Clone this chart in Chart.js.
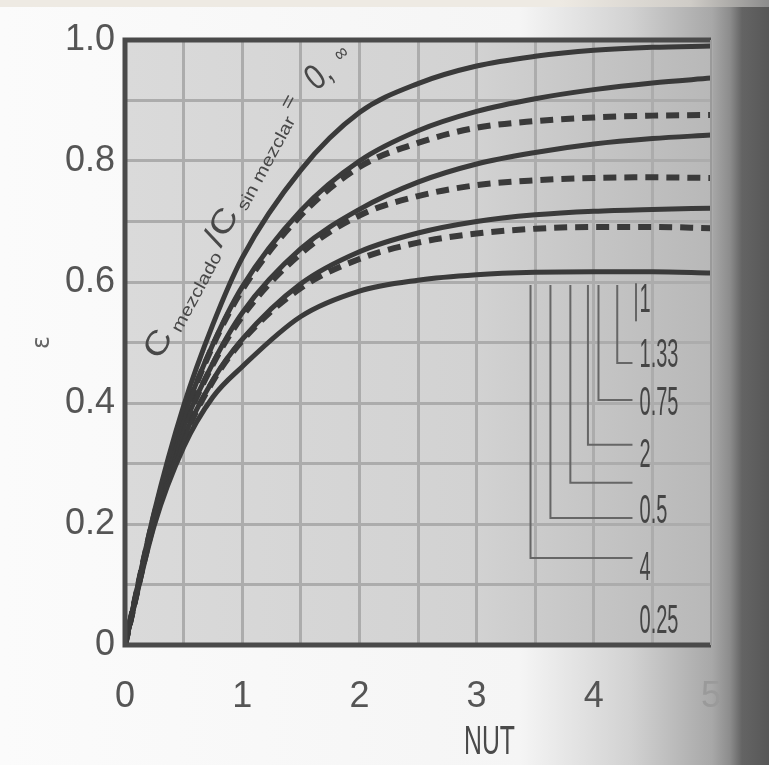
<!DOCTYPE html>
<html lang="es">
<head>
<meta charset="UTF-8">
<title>Efectividad - flujo cruzado, un fluido mezclado</title>
<script src="https://cdn.jsdelivr.net/npm/chart.js@4.4.1/dist/chart.umd.min.js"></script>
<style>
  html, body { margin: 0; padding: 0; }
  body {
    width: 769px; height: 765px; overflow: hidden; position: relative;
    background: linear-gradient(to right, #fbfbfb 0px, #f5f5f5 520px, #d2d2d2 630px, #a8a8a8 712px, #8c8c8c 730px, #646464 742px, #575757 769px);
  }
  .top-strip {
    position: absolute; left: 0; top: 0; width: 769px; height: 7px;
    background: linear-gradient(to right, #eeeae3 0px, #eeeae3 560px, #cfccc7 690px, #8c8c8c 769px);
  }
  #wrap { position: absolute; left: 0; top: 0; width: 769px; height: 765px; }
</style>
</head>
<body>
<div class="top-strip"></div>
<div id="wrap"><canvas id="chart"></canvas></div>

<script>
const nut = [0, 0.25, 0.5, 0.75, 1, 1.5, 2, 2.5, 3, 3.5, 4, 4.5, 5];

// effectiveness, one curve per C mezclado / C sin mezclar
const effZeroInf = [0, 0.22, 0.395, 0.53, 0.64, 0.785, 0.88, 0.928, 0.957, 0.973, 0.983, 0.988, 0.99];
const eff025 = [0, 0.215, 0.377, 0.497, 0.592, 0.718, 0.80, 0.85, 0.882, 0.903, 0.918, 0.929, 0.937];
const eff4   = [0, 0.215, 0.375, 0.495, 0.587, 0.71, 0.79, 0.83, 0.855, 0.866, 0.872, 0.875, 0.876];
const eff05  = [0, 0.209, 0.36, 0.466, 0.549, 0.655, 0.72, 0.765, 0.795, 0.814, 0.828, 0.837, 0.843];
const eff2   = [0, 0.209, 0.358, 0.464, 0.543, 0.647, 0.71, 0.742, 0.76, 0.768, 0.772, 0.773, 0.772];
const eff075 = [0, 0.204, 0.342, 0.438, 0.505, 0.597, 0.65, 0.681, 0.70, 0.711, 0.717, 0.72, 0.722];
const eff133 = [0, 0.204, 0.341, 0.436, 0.503, 0.59, 0.638, 0.665, 0.68, 0.688, 0.691, 0.691, 0.689];
const eff1   = [0, 0.198, 0.327, 0.41, 0.46, 0.543, 0.585, 0.603, 0.612, 0.616, 0.617, 0.617, 0.615];

// labels on the right, top to bottom, with their leader lines
const rightLabels = ['1', '1.33', '0.75', '2', '0.5', '4', '0.25'];
const rightLabelY = [0.568, 0.478, 0.398, 0.312, 0.22, 0.125, 0.038];
const leaderLabels = ['1.33', '0.75', '2', '0.5', '4', '0.25'];
const leaderX = [4.2, 4.04, 3.95, 3.8, 3.63, 3.46];
const leaderY = [0.466, 0.405, 0.331, 0.268, 0.21, 0.144];

const toPts = arr => nut.map((x, i) => ({ x: x, y: arr[i] }));

const INK = '#3a3a3a';
function curve(label, arr, dashed) {
  return {
    label: label,
    data: toPts(arr),
    borderColor: INK,
    borderWidth: dashed ? 6 : 5,
    borderDash: dashed ? [13, 8] : [],
    pointRadius: 0,
    fill: false,
    cubicInterpolationMode: 'monotone'
  };
}

const datasets = [
  curve('0, ∞', effZeroInf, false),
  curve('0.25', eff025, false),
  curve('4', eff4, true),
  curve('0.5', eff05, false),
  curve('2', eff2, true),
  curve('0.75', eff075, false),
  curve('1.33', eff133, true),
  curve('1', eff1, false)
];

const plotBg = {
  id: 'plotBg',
  beforeDraw(chart) {
    const { ctx, chartArea: a } = chart;
    const g = ctx.createLinearGradient(a.left, 0, a.right, 0);
    g.addColorStop(0, '#dadada');
    g.addColorStop(0.6, '#d2d2d2');
    g.addColorStop(1, '#b8b8b8');
    ctx.save();
    ctx.fillStyle = g;
    ctx.fillRect(a.left, a.top, a.right - a.left, a.bottom - a.top);
    ctx.restore();
  }
};

function condensedText(ctx, txt, x, y, size, squeeze, align) {
  ctx.save();
  ctx.translate(x, y);
  ctx.scale(squeeze, 1);
  ctx.font = size + 'px "Liberation Sans", Arial, sans-serif';
  ctx.textAlign = align || 'left';
  ctx.textBaseline = 'middle';
  ctx.fillText(txt, 0, 0);
  ctx.restore();
}

const extras = {
  id: 'extras',
  afterDatasetsDraw(chart) {
    const { ctx, chartArea: a, scales: { x, y } } = chart;
    ctx.save();

    // frame
    ctx.strokeStyle = '#4a4a4a';
    ctx.lineWidth = 5;
    ctx.beginPath();
    ctx.moveTo(a.right, a.top);
    ctx.lineTo(a.left, a.top);
    ctx.lineTo(a.left, a.bottom);
    ctx.lineTo(a.right, a.bottom);
    ctx.stroke();
    ctx.strokeStyle = '#9a9a9a';
    ctx.lineWidth = 2;
    ctx.beginPath();
    ctx.moveTo(a.right, a.top);
    ctx.lineTo(a.right, a.bottom);
    ctx.stroke();

    // leader lines
    ctx.strokeStyle = '#666';
    ctx.lineWidth = 2;
    const endX = x.getPixelForValue(4.33);
    leaderLabels.forEach((l, i) => {
      const px = x.getPixelForValue(leaderX[i]);
      ctx.beginPath();
      ctx.moveTo(px, y.getPixelForValue(0.595));
      ctx.lineTo(px, y.getPixelForValue(leaderY[i]));
      ctx.lineTo(endX, y.getPixelForValue(leaderY[i]));
      ctx.stroke();
    });
    // short tick above the "1"
    const tx = x.getPixelForValue(4.36);
    ctx.beginPath();
    ctx.moveTo(tx, y.getPixelForValue(0.598));
    ctx.lineTo(tx, y.getPixelForValue(0.535));
    ctx.stroke();

    // right labels
    ctx.fillStyle = '#454545';
    const lx = x.getPixelForValue(4.39);
    rightLabels.forEach((l, i) => {
      condensedText(ctx, l, lx, y.getPixelForValue(rightLabelY[i]), 40, 0.5, 'left');
    });

    // curve family label along the top curve
    const p0 = { x: x.getPixelForValue(0.3), y: y.getPixelForValue(0.47) };
    const p1 = { x: x.getPixelForValue(1.5), y: y.getPixelForValue(0.9) };
    const ang = Math.atan2(p1.y - p0.y, p1.x - p0.x);
    const len = Math.hypot(p1.x - p0.x, p1.y - p0.y);
    const pieces = [
      ['C', 32, 0], [' mezclado ', 17, 5], ['/C', 32, 0], [' sin mezclar ', 17, 5], ['=', 20, -4]
    ];
    let total = 0;
    pieces.forEach(p => {
      ctx.font = p[1] + 'px "Liberation Sans", Arial, sans-serif';
      total += ctx.measureText(p[0]).width;
    });
    ctx.save();
    ctx.translate(p0.x, p0.y);
    ctx.rotate(ang);
    ctx.scale(len / total, 1);
    ctx.textBaseline = 'alphabetic';
    ctx.fillStyle = '#484848';
    let cx = 0;
    pieces.forEach(p => {
      ctx.font = p[1] + 'px "Liberation Sans", Arial, sans-serif';
      ctx.fillText(p[0], cx, p[2]);
      cx += ctx.measureText(p[0]).width;
    });
    ctx.restore();

    ctx.save();
    ctx.translate(x.getPixelForValue(1.63), y.getPixelForValue(0.915));
    ctx.rotate(-38 * Math.PI / 180);
    ctx.fillStyle = '#484848';
    ctx.font = '36px "Liberation Sans", Arial, sans-serif';
    ctx.scale(0.8, 1);
    ctx.fillText('0,', 0, 0);
    const w0 = ctx.measureText('0, ').width;
    ctx.font = '22px "Liberation Sans", Arial, sans-serif';
    ctx.fillText('∞', w0 + 6, -8);
    ctx.restore();

    // axis titles
    ctx.fillStyle = '#4a4a4a';
    condensedText(ctx, 'NUT', x.getPixelForValue(3.11), chart.height - 22, 40, 0.62, 'center');
    ctx.save();
    ctx.translate(a.left - 82, y.getPixelForValue(0.5));
    ctx.rotate(-Math.PI / 2);
    ctx.fillStyle = '#666';
    ctx.font = '24px "DejaVu Sans", sans-serif';
    ctx.textAlign = 'center';
    ctx.textBaseline = 'middle';
    ctx.fillText('ε', 0, 0);
    ctx.restore();

    ctx.restore();
  }
};

new Chart(document.getElementById('chart'), {
  type: 'line',
  data: { datasets: datasets },
  options: {
    responsive: true,
    maintainAspectRatio: false,
    animation: false,
    layout: { padding: { top: 40, right: 58, left: 0, bottom: 0 } },
    plugins: { legend: { display: false }, tooltip: { enabled: false } },
    scales: {
      x: {
        type: 'linear', min: 0, max: 5,
        afterFit: s => { s.height = 120; },
        border: { display: false },
        grid: { color: '#acacac', lineWidth: 3, drawTicks: false },
        ticks: {
          stepSize: 0.5, autoSkip: false, maxRotation: 0, padding: 30,
          font: { family: '"Liberation Sans", Arial, sans-serif', size: 36 },
          color: ctx => ctx.tick && ctx.tick.value === 5 ? '#9a9a9a' : '#555',
          callback: v => Number.isInteger(v) ? String(v) : ''
        }
      },
      y: {
        min: 0, max: 1,
        afterFit: s => { s.width = 125; },
        border: { display: false },
        grid: { color: '#acacac', lineWidth: 3, drawTicks: false },
        ticks: {
          stepSize: 0.1, autoSkip: false, padding: 10,
          font: { family: '"Liberation Sans", Arial, sans-serif', size: 36 },
          color: '#555',
          callback: v => {
            const k = Math.round(v * 10);
            if (k % 2 !== 0) return '';
            return k === 0 ? '0' : (k / 10).toFixed(1);
          }
        }
      }
    }
  },
  plugins: [plotBg, extras]
});
</script>
</body>
</html>
